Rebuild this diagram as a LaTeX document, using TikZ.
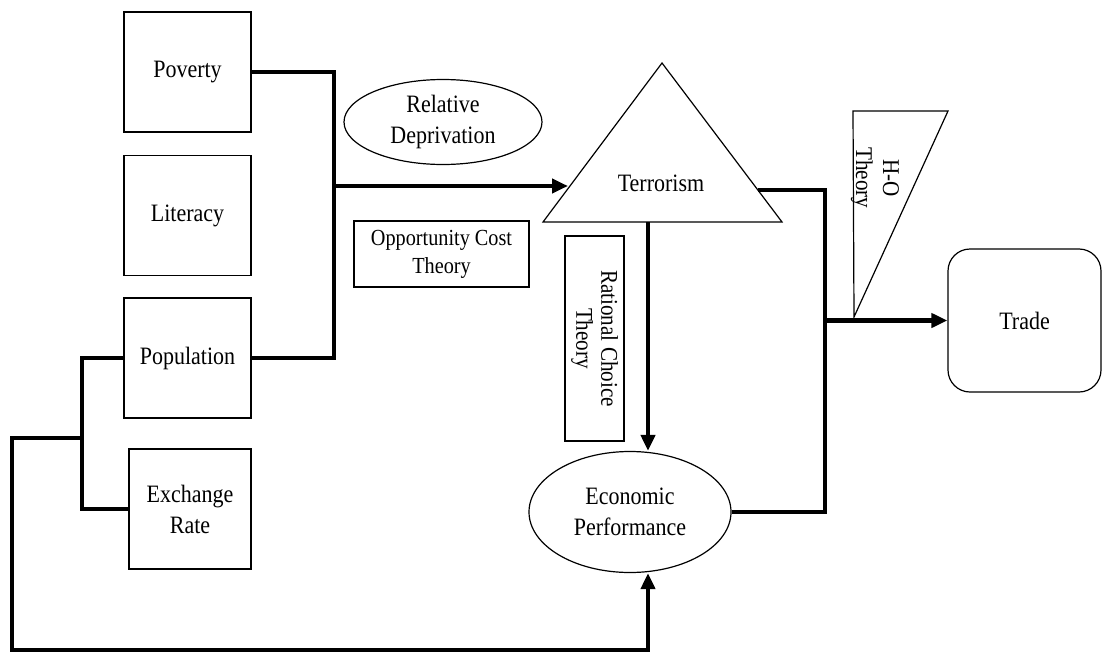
\documentclass[tikz,border=0pt]{standalone}
\usepackage{fontspec}
\setmainfont{Liberation Serif}[FakeStretch=0.88]
\usetikzlibrary{arrows.meta, shapes.geometric, positioning}

\begin{document}
\begin{tikzpicture}[x=0.5pt,y=-0.5pt,>={Triangle[length=8pt,width=7pt]},
        every node/.style={font=\fontsize{12.5}{15.5}\selectfont, align=center},
        factor/.style={draw, line width=0.6pt, minimum width=63.5pt, minimum height=60pt, inner sep=0pt},
        theory/.style={draw, line width=1.3pt, inner sep=0pt, font=\fontsize{12}{12.5}\selectfont},
        bubble/.style={draw, ellipse, line width=0.6pt, inner sep=0pt},
        link/.style={line width=2.4pt}]

    \useasboundingbox (0,0) rectangle (1102,653);

    % factors
    \node[factor] (poverty)    at (187.5,72)    {Poverty};
    \node[factor] (literacy)   at (187.5,215.5) {Literacy};
    \node[factor] (population) at (187.5,358)   {Population};
    \node[factor, minimum width=61pt] (exchange) at (190,509) {Exchange\\Rate};

    % theories
    \node[bubble, minimum width=99pt, minimum height=42.5pt] (reldep) at (443,122) {Relative\\Deprivation};
    \node[theory, minimum width=87.5pt, minimum height=33pt, font=\fontsize{11.5}{14}\selectfont]
        (oppcost) at (441.5,254) {Opportunity Cost\\Theory};
    \node[theory, rotate=-90, minimum width=102.5pt, minimum height=29.5pt]
        (ratchoice) at (594.5,338.5) {Rational Choice\\Theory};
    \draw[line width=0.6pt] (853,111) -- (948,111) -- (854,317) -- cycle;
    \node[rotate=-90, font=\fontsize{12}{13.5}\selectfont] (hotheory) at (875,178) {H-O\\Theory};

    % terrorism
    \draw[line width=0.6pt] (662,63) -- (543,222) -- (782,222) -- cycle;
    \node (terror) at (661,183) {Terrorism};

    \node[bubble, minimum width=101pt, minimum height=60.5pt] (ecoperf) at (630,512) {Economic\\Performance};
    \node[draw, rounded corners=11pt, line width=0.6pt, minimum width=76.5pt, minimum height=71.5pt]
        (trade) at (1024.5,320.5) {Trade};

    \coordinate (tin)    at (568,186);
    \coordinate (tout)   at (758,190);
    \coordinate (tbase)  at (648,222);
    \coordinate (pbus)   at (334,358);
    \coordinate (jterr)  at (334,186);
    \coordinate (lbus)   at (82,438);
    \coordinate (loopc)  at (12,650);
    \coordinate (rbus)   at (825,512);
    \coordinate (jtrade) at (825,320.5);

    % connectors
    \draw[link] (poverty.east) -| (pbus) -- (population.east);
    \draw[link,->] (jterr) -- (tin);
    \draw[link] (population.west) -| (lbus) |- (exchange.west);
    \draw[link,->] (lbus) -| (loopc) -| (ecoperf.south -| tbase);
    \draw[link,->] (tbase) -- (tbase |- ecoperf.north);
    \draw[link] (tout) -| (rbus) -- (ecoperf.east);
    \draw[link,->] (jtrade) -- (trade.west);
\end{tikzpicture}
\end{document}
